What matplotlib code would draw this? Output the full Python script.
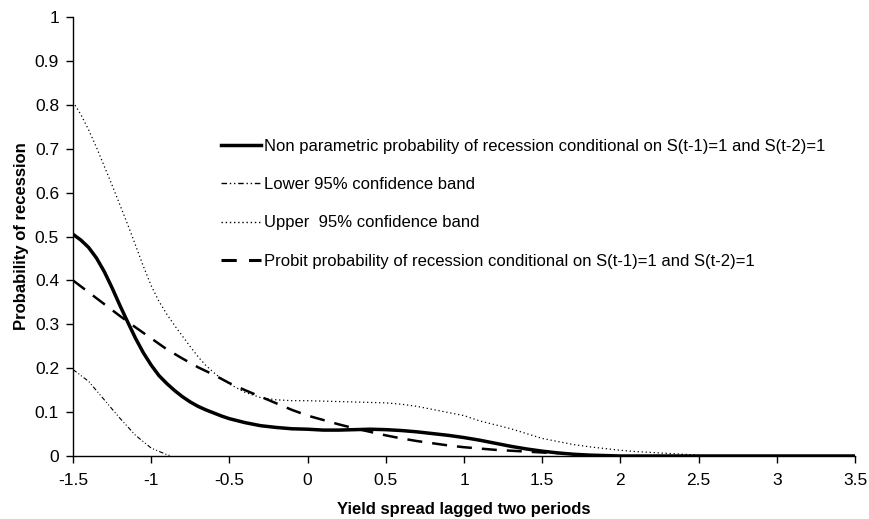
import matplotlib
matplotlib.use("Agg")
import matplotlib.pyplot as plt
from matplotlib.lines import Line2D

plt.rcParams['font.family'] = ['Liberation Sans', 'DejaVu Sans']

# Non parametric probability
x_np = [-1.5, -1.45, -1.4, -1.35, -1.3, -1.25, -1.2, -1.15, -1.1, -1.05, -1.0, -0.95, -0.9, -0.85,
        -0.8, -0.75, -0.7, -0.65, -0.6, -0.55, -0.5, -0.4, -0.3, -0.2, -0.1,
        0.0, 0.1, 0.2, 0.3, 0.4, 0.5, 0.6, 0.7, 0.8, 0.9, 1.0, 1.1, 1.2, 1.3, 1.4, 1.5, 1.6, 1.7,
        1.8, 1.9, 2.0, 3.5]
y_np = [0.505, 0.492, 0.475, 0.451, 0.420, 0.383, 0.343, 0.305, 0.268, 0.235, 0.207, 0.183, 0.165,
        0.149, 0.135, 0.123, 0.113, 0.105, 0.098, 0.091, 0.085, 0.076, 0.069,
        0.065, 0.062, 0.061, 0.059, 0.059, 0.060, 0.061, 0.060, 0.058, 0.055, 0.051, 0.047, 0.042,
        0.036, 0.029, 0.022, 0.016, 0.011, 0.007, 0.004, 0.002, 0.001, 0.0, 0.0]

# Lower 95% band
x_lo = [-1.5, -1.4, -1.3, -1.2, -1.1, -1.0, -0.9, -0.87]
y_lo = [0.197, 0.170, 0.128, 0.086, 0.047, 0.018, 0.003, 0.0]

# Upper 95% band
x_up = [-1.5, -1.45, -1.4, -1.35, -1.3, -1.25, -1.2, -1.15, -1.1, -1.05, -1.0, -0.95, -0.9, -0.85,
        -0.8, -0.75, -0.7, -0.65, -0.6, -0.55, -0.5, -0.4, -0.3, -0.2, -0.1,
        0.0, 0.1, 0.2, 0.3, 0.4, 0.5, 0.6, 0.7, 0.8, 0.9, 1.0, 1.1, 1.2, 1.3, 1.4, 1.5, 1.6, 1.7,
        1.8, 1.9, 2.0, 2.1, 2.2, 2.3, 2.4, 2.5]
y_up = [0.807, 0.778, 0.743, 0.703, 0.660, 0.617, 0.572, 0.527, 0.480, 0.432, 0.388, 0.352, 0.323,
        0.297, 0.273, 0.249, 0.226, 0.206, 0.190, 0.176, 0.164, 0.145, 0.133,
        0.128, 0.126, 0.126, 0.125, 0.124, 0.123, 0.122, 0.121, 0.118, 0.113, 0.106, 0.099, 0.092,
        0.080, 0.071, 0.062, 0.051, 0.040, 0.033, 0.026, 0.021, 0.017, 0.013, 0.010, 0.008, 0.006,
        0.004, 0.002]

# Probit probability
x_pr = [-1.5, -1.4, -1.3, -1.2, -1.1, -1.0, -0.9, -0.8, -0.7, -0.6, -0.5, -0.4, -0.3, -0.2, -0.1,
        0.0, 0.1, 0.2, 0.3, 0.4, 0.5, 0.6, 0.7, 0.8, 0.9, 1.0, 1.1, 1.2, 1.3, 1.4, 1.5, 1.6]
y_pr = [0.400, 0.373, 0.346, 0.319, 0.293, 0.268, 0.243, 0.222, 0.202, 0.185, 0.166, 0.150, 0.135,
        0.120, 0.105, 0.092, 0.082, 0.072, 0.063, 0.055, 0.047, 0.040, 0.034, 0.029, 0.024, 0.020,
        0.017, 0.014, 0.012, 0.010, 0.008, 0.006]

labels = ["Non parametric probability of recession conditional on S(t-1)=1 and S(t-2)=1",
          "Lower 95% confidence band",
          "Upper  95% confidence band",
          "Probit probability of recession conditional on S(t-1)=1 and S(t-2)=1"]

x_ticks = [-1.5, -1, -0.5, 0, 0.5, 1, 1.5, 2, 2.5, 3, 3.5]
x_ticklabels = ["-1.5", "-1", "-0.5", "0", "0.5", "1", "1.5", "2", "2.5", "3", "3.5"]
y_ticks = [0, 0.1, 0.2, 0.3, 0.4, 0.5, 0.6, 0.7, 0.8, 0.9, 1]
y_ticklabels = ["0", "0.1", "0.2", "0.3", "0.4", "0.5", "0.6", "0.7", "0.8", "0.9", "1"]

fig = plt.figure(figsize=(8.7, 5.19), dpi=100)
ax = fig.add_axes([0.0839, 0.1214, 0.8989, 0.8458])

ax.plot(x_np, y_np, color='black', lw=2.5, solid_capstyle='butt', solid_joinstyle='round', zorder=4)
ax.plot(x_lo, y_lo, color='black', lw=0.8, dashes=(4, 2, 1, 2, 1, 2), zorder=3)
ax.plot(x_up, y_up, color='black', lw=0.9, dashes=(1, 2.2), zorder=3)
ax.plot(x_pr, y_pr, color='black', lw=1.8, dashes=(6, 4), zorder=3)

ax.set_xlim(-1.5, 3.5)
ax.set_ylim(0, 1)
ax.set_xticks(x_ticks)
ax.set_xticklabels(x_ticklabels)
ax.set_yticks(y_ticks)
ax.set_yticklabels(y_ticklabels)
for s in ['top', 'right']:
    ax.spines[s].set_visible(False)
for s in ['left', 'bottom']:
    ax.spines[s].set_linewidth(1.0)
ax.tick_params(axis='both', direction='out', length=5, width=1, labelsize=12.5, pad=5)
ax.tick_params(axis='x', pad=7)

ax.set_xlabel("Yield spread lagged two periods", fontsize=12, fontweight='bold', labelpad=10)
ax.set_ylabel("Probability of recession", fontsize=12, fontweight='bold', labelpad=4)

handles = [
    Line2D([], [], color='black', lw=2.5),
    Line2D([], [], color='black', lw=1.0, dashes=(4, 2, 1, 2, 1, 2)),
    Line2D([], [], color='black', lw=1.0, dashes=(1, 2)),
    Line2D([], [], color='black', lw=2.2, dashes=(5, 4)),
]
leg = ax.legend(handles, labels, loc='upper left', bbox_to_anchor=(0.1806, 0.738),
                frameon=False, fontsize=12, handlelength=2.4, handletextpad=0.18,
                labelspacing=1.40, borderaxespad=0)

fig.savefig("out.png", dpi=100)
